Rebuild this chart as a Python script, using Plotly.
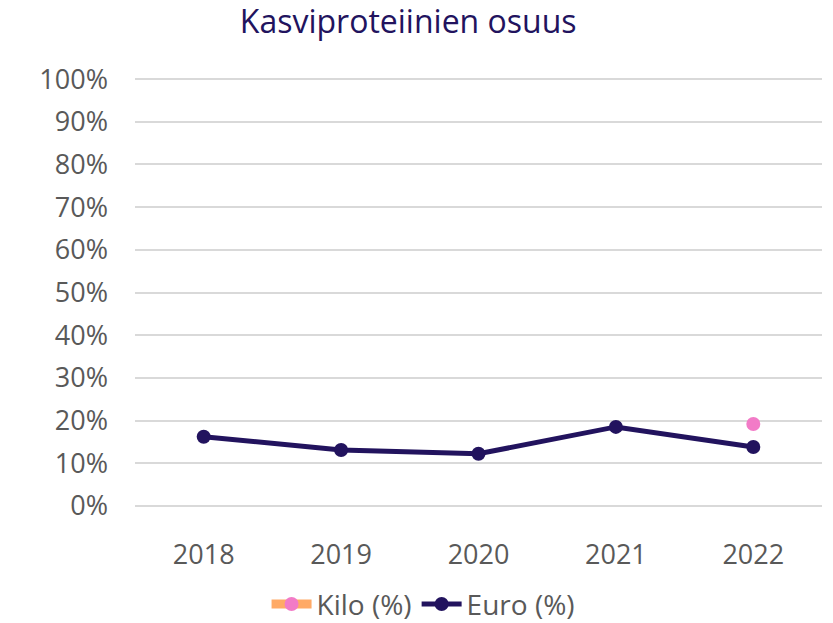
import plotly.graph_objects as go

years = ["2018", "2019", "2020", "2021", "2022"]
euro = [0.162, 0.131, 0.122, 0.185, 0.138]
kilo = [None, None, None, None, 0.192]
yticks = [0, 0.1, 0.2, 0.3, 0.4, 0.5, 0.6, 0.7, 0.8, 0.9, 1.0]
yticklabels = ["0%", "10%", "20%", "30%", "40%", "50%", "60%", "70%", "80%", "90%", "100%"]

fig = go.Figure()
fig.add_trace(go.Scatter(
    x=years, y=kilo, name="Kilo (%)", mode="lines+markers",
    line=dict(color="#FFAA66", width=9),
    marker=dict(color="#F27BC7", size=14),
))
fig.add_trace(go.Scatter(
    x=years, y=euro, name="Euro (%)", mode="lines+markers",
    line=dict(color="#22135E", width=5),
    marker=dict(color="#22135E", size=14),
))

fig.update_layout(
    width=833, height=623,
    paper_bgcolor="white", plot_bgcolor="white",
    margin=dict(l=135, r=11, t=77, b=115, autoexpand=False),
    title=dict(text="Kasviproteiinien osuus", x=0.49, xanchor="center",
               yref="container", y=0.965, yanchor="middle",
               font=dict(family="Open Sans, sans-serif", size=32, color="#22135E")),
    font=dict(family="Open Sans, sans-serif", color="#595959"),
    showlegend=True,
    legend=dict(orientation="h", xref="container", x=0.32, xanchor="left",
                yref="container", y=0.03, yanchor="middle",
                font=dict(size=28, color="#595959"), itemwidth=40,
                bgcolor="rgba(0,0,0,0)"),
    xaxis=dict(type="category", range=[-0.5, 4.5], showgrid=False, showline=False,
               zeroline=False, automargin=False,
               tickfont=dict(size=27, color="#595959"), ticks="", ticklabelstandoff=28),
    yaxis=dict(range=[-0.005, 1.005], tickvals=yticks, ticktext=yticklabels, automargin=False,
               showgrid=True, gridcolor="#D9D9D9", gridwidth=1.5, zeroline=False,
               showline=False, ticks="", tickfont=dict(size=27, color="#595959"),
               ticklabelstandoff=26),
)

fig.write_html("out.html", config={"displayModeBar": False},
               post_script="document.body.style.margin='0';")
